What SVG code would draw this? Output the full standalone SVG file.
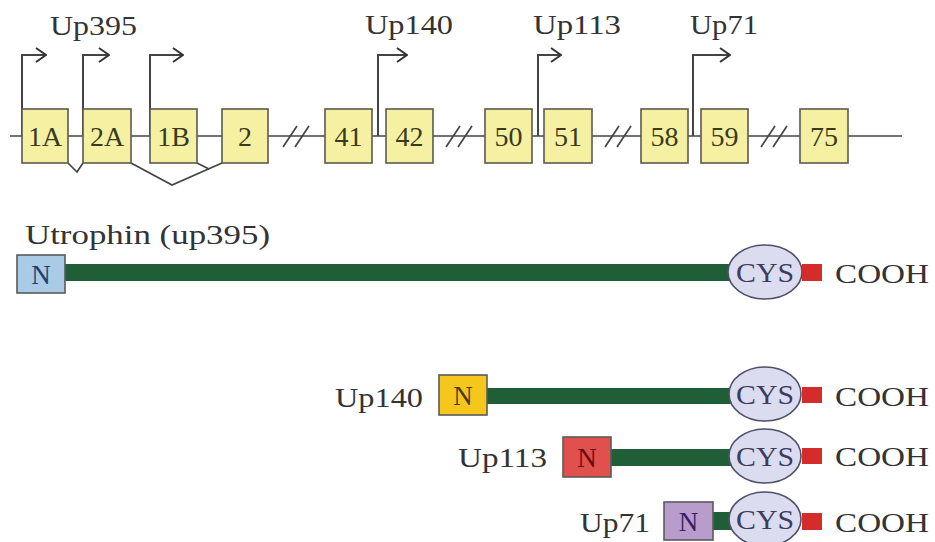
<svg xmlns="http://www.w3.org/2000/svg" width="935" height="542" viewBox="0 0 935 542">
<style>
text{font-family:"Liberation Serif","Times New Roman",serif;fill:#333}
.lbl{font-size:27px}
.ex{fill:#f6f1a2;stroke:#5a5a50;stroke-width:1.6}
.ext{font-size:28px;text-anchor:middle;fill:#3a3a20}
.ln{fill:none;stroke:#444;stroke-width:1.7}
.pr{fill:none;stroke:#444;stroke-width:2}
.bar{fill:#1f5e37}
.cys{fill:#dcdcf0;stroke:#50506a;stroke-width:1.6}
.cyst{font-size:27px;text-anchor:middle;fill:#3c3c60}
.c{fill:#d42b2b}
.cooh{font-size:28px}
.nb{stroke:#5a5a5a;stroke-width:1.6}
.nt{font-size:27px;text-anchor:middle}
</style>
<defs>
<marker id="arr" viewBox="0 0 12 16" refX="11" refY="8" markerWidth="12" markerHeight="16" orient="auto" markerUnits="userSpaceOnUse">
<path d="M1,1 L11,8 L1,15" fill="none" stroke="#333" stroke-width="2"/>
</marker>
</defs>
<rect width="935" height="542" fill="#ffffff"/>

<g id="connectors">
<line class="ln" x1="10" y1="136" x2="902" y2="136"/>
<g class="ln">
<line x1="283" y1="147" x2="297" y2="126"/><line x1="295" y1="147" x2="309" y2="126"/>
<line x1="446" y1="147" x2="460" y2="126"/><line x1="458" y1="147" x2="472" y2="126"/>
<line x1="605" y1="147" x2="619" y2="126"/><line x1="617" y1="147" x2="631" y2="126"/>
<line x1="761" y1="147" x2="775" y2="126"/><line x1="773" y1="147" x2="787" y2="126"/>
</g>
<path class="ln" d="M68,163 L77,172 L83,163"/>
<path class="ln" d="M131,163 L172,185 L222,163"/>
<path class="ln" d="M197,163 L209,169"/>
<path class="pr" d="M22,136 V55 H46" marker-end="url(#arr)"/>
<path class="pr" d="M83,136 V55 H109" marker-end="url(#arr)"/>
<path class="pr" d="M150,136 V55 H183" marker-end="url(#arr)"/>
<path class="pr" d="M378,136 V55 H407" marker-end="url(#arr)"/>
<path class="pr" d="M538,136 V55 H561" marker-end="url(#arr)"/>
<path class="pr" d="M693,136 V55 H730" marker-end="url(#arr)"/>
</g>

<g id="promoter-labels">
<text class="lbl" x="50" y="35" textLength="87" lengthAdjust="spacingAndGlyphs">Up395</text>
<text class="lbl" x="365" y="34" textLength="88" lengthAdjust="spacingAndGlyphs">Up140</text>
<text class="lbl" x="533" y="34" textLength="88" lengthAdjust="spacingAndGlyphs">Up113</text>
<text class="lbl" x="690" y="34" textLength="68" lengthAdjust="spacingAndGlyphs">Up71</text>
</g>

<g id="exon-1A"><rect class="ex" x="22" y="109" width="46" height="54"/><text class="ext" x="45" y="146">1A</text></g>
<g id="exon-2A"><rect class="ex" x="83" y="109" width="48" height="54"/><text class="ext" x="107" y="146">2A</text></g>
<g id="exon-1B"><rect class="ex" x="150" y="109" width="47" height="54"/><text class="ext" x="173.5" y="146">1B</text></g>
<g id="exon-2"><rect class="ex" x="222" y="109" width="46" height="54"/><text class="ext" x="245" y="146">2</text></g>
<g id="exon-41"><rect class="ex" x="325" y="109" width="47" height="54"/><text class="ext" x="348.5" y="146">41</text></g>
<g id="exon-42"><rect class="ex" x="386" y="109" width="47" height="54"/><text class="ext" x="409.5" y="146">42</text></g>
<g id="exon-50"><rect class="ex" x="485" y="109" width="47" height="54"/><text class="ext" x="508.5" y="146">50</text></g>
<g id="exon-51"><rect class="ex" x="544" y="109" width="48" height="54"/><text class="ext" x="568" y="146">51</text></g>
<g id="exon-58"><rect class="ex" x="641" y="109" width="47" height="54"/><text class="ext" x="664.5" y="146">58</text></g>
<g id="exon-59"><rect class="ex" x="701" y="109" width="47" height="54"/><text class="ext" x="724.5" y="146">59</text></g>
<g id="exon-75"><rect class="ex" x="800" y="109" width="48" height="54"/><text class="ext" x="824" y="146">75</text></g>

<g id="utrophin">
<text class="lbl" x="25" y="244" textLength="245" lengthAdjust="spacingAndGlyphs">Utrophin (up395)</text>
<rect class="bar" x="64" y="264" width="670" height="17"/>
<rect class="nb" x="17" y="255" width="48" height="38" fill="#a9cbe6"/>
<text class="nt" x="41" y="284" style="fill:#1c3f70">N</text>
<ellipse class="cys" cx="765" cy="272" rx="37" ry="27"/>
<text class="cyst" x="765" y="282" textLength="58" lengthAdjust="spacingAndGlyphs">CYS</text>
<rect class="c" x="802" y="264" width="20" height="17"/>
<text class="cooh" x="835" y="283" textLength="94" lengthAdjust="spacingAndGlyphs">COOH</text>
</g>

<g id="up140">
<text class="lbl" x="335" y="407" textLength="88" lengthAdjust="spacingAndGlyphs">Up140</text>
<rect class="bar" x="487" y="388" width="246" height="16"/>
<rect class="nb" x="439" y="375" width="48" height="40" fill="#f5c71c"/>
<text class="nt" x="463" y="405" style="fill:#4a3a10">N</text>
<ellipse class="cys" cx="765" cy="394" rx="36" ry="27"/>
<text class="cyst" x="765" y="404" textLength="58" lengthAdjust="spacingAndGlyphs">CYS</text>
<rect class="c" x="802" y="387" width="20" height="16"/>
<text class="cooh" x="835" y="406" textLength="94" lengthAdjust="spacingAndGlyphs">COOH</text>
</g>

<g id="up113">
<text class="lbl" x="458" y="467" textLength="89" lengthAdjust="spacingAndGlyphs">Up113</text>
<rect class="bar" x="610" y="449" width="124" height="17"/>
<rect class="nb" x="563" y="437" width="48" height="40" fill="#e0504d"/>
<text class="nt" x="587" y="467" style="fill:#6a0c0c">N</text>
<ellipse class="cys" cx="765" cy="456" rx="36" ry="27"/>
<text class="cyst" x="765" y="466" textLength="58" lengthAdjust="spacingAndGlyphs">CYS</text>
<rect class="c" x="802" y="448" width="20" height="16"/>
<text class="cooh" x="835" y="466" textLength="94" lengthAdjust="spacingAndGlyphs">COOH</text>
</g>

<g id="up71">
<text class="lbl" x="580" y="532" textLength="70" lengthAdjust="spacingAndGlyphs">Up71</text>
<rect class="bar" x="712" y="512" width="22" height="18"/>
<rect class="nb" x="664" y="502" width="49" height="38" fill="#b79ccc"/>
<text class="nt" x="688.5" y="531" style="fill:#3a2064">N</text>
<ellipse class="cys" cx="765" cy="519" rx="36" ry="27"/>
<text class="cyst" x="765" y="529" textLength="58" lengthAdjust="spacingAndGlyphs">CYS</text>
<rect class="c" x="802" y="513" width="20" height="17"/>
<text class="cooh" x="835" y="532" textLength="94" lengthAdjust="spacingAndGlyphs">COOH</text>
</g>
</svg>
